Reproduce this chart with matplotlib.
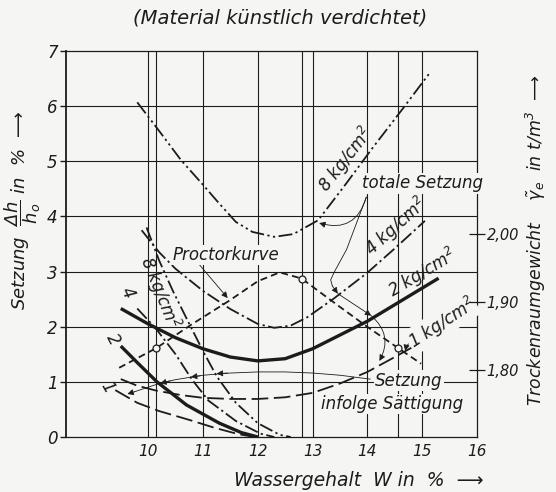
import matplotlib
matplotlib.use("Agg")
import matplotlib.pyplot as plt

plt.rcParams['font.family'] = ['DejaVu Sans']
plt.rcParams['font.style'] = 'italic'
plt.rcParams['mathtext.fontset'] = 'dejavusans'
plt.rcParams['mathtext.default'] = 'it'
plt.rcParams['lines.scale_dashes'] = False

INK = '#1c1c1c'
PAPER = '#f5f5f3'

# totale Setzung (x: Wassergehalt W in %, y: Setzung in %)
w_tot_8 = [9.8, 10.2, 10.6, 10.95, 11.3, 11.6, 11.9, 12.3, 12.65, 13.1, 13.6, 14.1, 14.65, 15.15]
s_tot_8 = [6.07, 5.55, 5.02, 4.63, 4.23, 3.9, 3.72, 3.63, 3.68, 3.93, 4.58, 5.25, 5.96, 6.62]
w_tot_4 = [9.88, 10.2, 10.5, 11.0, 11.5, 12.0, 12.3, 12.6, 12.9, 13.4, 14.0, 14.5, 15.05]
s_tot_4 = [3.75, 3.35, 3.05, 2.65, 2.32, 2.05, 1.98, 2.02, 2.17, 2.52, 2.98, 3.42, 3.92]
w_tot_2 = [9.5, 10.0, 10.5, 11.0, 11.5, 12.0, 12.5, 13.0, 13.5, 14.0, 14.5, 15.0, 15.3]
s_tot_2 = [2.33, 2.05, 1.8, 1.6, 1.45, 1.38, 1.42, 1.6, 1.85, 2.1, 2.4, 2.7, 2.88]
w_tot_1 = [9.5, 9.8, 10.15, 10.6, 11.0, 11.5, 12.0, 12.5, 13.0, 13.5, 14.0, 14.5, 14.95]
s_tot_1 = [1.05, 0.93, 0.84, 0.76, 0.71, 0.69, 0.69, 0.72, 0.8, 0.97, 1.18, 1.45, 1.7]

# Setzung infolge Saettigung
w_sat_8 = [9.97, 10.2, 10.45, 10.75, 11.0, 11.25, 11.6, 12.0, 12.4, 12.6]
s_sat_8 = [3.8, 3.2, 2.65, 2.05, 1.56, 1.1, 0.62, 0.25, 0.04, 0.0]
w_sat_4 = [9.8, 10.13, 10.5, 10.8, 11.1, 11.6, 12.05, 12.3]
s_sat_4 = [2.33, 1.98, 1.5, 1.04, 0.66, 0.29, 0.06, 0.0]
w_sat_2 = [9.5, 9.8, 10.16, 10.7, 11.3, 11.7, 12.0]
s_sat_2 = [1.65, 1.35, 1.0, 0.58, 0.25, 0.08, 0.0]
w_sat_1 = [9.4, 9.8, 10.2, 10.75, 11.2, 11.65, 11.95]
s_sat_1 = [0.85, 0.62, 0.47, 0.31, 0.17, 0.05, 0.0]

# Proctorkurve (Trockenraumgewicht in t/m3)
w_proctor = [9.47, 10.15, 10.8, 11.47, 12.0, 12.4, 12.8, 13.1, 13.47, 14.0, 14.56, 14.98]
d_proctor = [1.803, 1.832, 1.867, 1.901, 1.930, 1.943, 1.934, 1.916, 1.894, 1.863, 1.832, 1.809]
w_proctor_pts = [10.15, 12.8, 14.56]
d_proctor_pts = [1.832, 1.934, 1.832]

grid_x = [10, 10.15, 11, 12, 12.8, 13, 14, 14.56, 15]
x_ticks = [10, 11, 12, 13, 14, 15, 16]
y_ticks = [0, 1, 2, 3, 4, 5, 6, 7]
d_ticks = [1.80, 1.90, 2.00]
d_labels = ['1,80', '1,90', '2,00']

fig = plt.figure(figsize=(5.56, 4.92), dpi=100, facecolor=PAPER)
ax = fig.add_axes([0.1187, 0.1118, 0.7392, 0.7845])
ax.set_facecolor(PAPER)
ax.set_xlim(8.5, 16)
ax.set_ylim(0, 7)

for y in y_ticks[1:-1]:
    ax.axhline(y, color=INK, lw=0.8, zorder=1)
for x in grid_x:
    ax.axvline(x, color=INK, lw=0.8, zorder=1)
for sp in ax.spines.values():
    sp.set_color(INK)
    sp.set_linewidth(0.9)
ax.spines['left'].set_linewidth(1.3)

ax.set_xticks(x_ticks)
ax.set_xticklabels([str(v) for v in x_ticks])
ax.set_yticks(y_ticks)
ax.set_yticklabels([str(v) for v in y_ticks])
ax.tick_params(axis='x', length=0, pad=5, labelsize=11, colors=INK)
ax.tick_params(axis='y', direction='out', length=4, width=1, pad=2, labelsize=12, colors=INK)

dash_long = (12, 4)
dash_short = (5, 3)
dash_dot = (10, 2.5, 1.6, 2.5)
dash_dotdot = (10, 2.5, 1.6, 2.5, 1.6, 2.5)

ax.plot(w_tot_8, s_tot_8, color=INK, lw=1.3, dashes=dash_dotdot, zorder=3)
ax.plot(w_tot_4, s_tot_4, color=INK, lw=1.3, dashes=dash_dot, zorder=3)
ax.plot(w_tot_2, s_tot_2, color=INK, lw=2.4, zorder=3, solid_capstyle='butt')
ax.plot(w_tot_1, s_tot_1, color=INK, lw=1.3, dashes=dash_long, zorder=3)

ax.plot(w_sat_8, s_sat_8, color=INK, lw=1.3, dashes=dash_dotdot, zorder=3)
ax.plot(w_sat_4, s_sat_4, color=INK, lw=1.3, dashes=dash_dot, zorder=3)
ax.plot(w_sat_2, s_sat_2, color=INK, lw=2.4, zorder=3, solid_capstyle='butt')
ax.plot(w_sat_1, s_sat_1, color=INK, lw=1.3, dashes=dash_long, zorder=3)

# right axis: Trockenraumgewicht
ax2 = ax.twinx()
ax2.set_ylim(2.00 - 3.69 / 12.36, 2.00 + 3.31 / 12.36)
for sp in ax2.spines.values():
    sp.set_visible(False)
ax2.set_yticks(d_ticks)
ax2.set_yticklabels(d_labels)
ax2.tick_params(axis='y', direction='inout', length=11, width=0.9, pad=1.5, labelsize=10.5, colors=INK)
ax2.plot(w_proctor, d_proctor, color=INK, lw=1.3, dashes=dash_short, zorder=3)
ax2.plot(w_proctor_pts, d_proctor_pts, 'o', ms=5, mfc=PAPER, mec=INK, mew=0.9, zorder=4)

box = dict(boxstyle='square,pad=0.08', fc=PAPER, ec='none')
fs = 12

# labels on the curves
ax.text(13.6, 5.02, '8 kg/cm$^2$', rotation=52, rotation_mode='anchor', ha='center', va='center', fontsize=fs, color=INK, zorder=5)
ax.text(14.52, 3.82, '4 kg/cm$^2$', rotation=42, rotation_mode='anchor', ha='center', va='center', fontsize=fs, color=INK, zorder=5)
ax.text(15.0, 2.98, '2 kg/cm$^2$', rotation=31, rotation_mode='anchor', ha='center', va='center', fontsize=fs, color=INK, zorder=5)
ax.text(15.36, 2.07, '1 kg/cm$^2$', rotation=33, rotation_mode='anchor', ha='center', va='center', fontsize=fs, color=INK, bbox=box, zorder=5)
ax.text(15.0, 4.6, 'totale Setzung', ha='center', va='center', fontsize=fs, color=INK, bbox=box, zorder=5, clip_on=False)
ax.text(11.42, 3.3, 'Proctorkurve', ha='center', va='center', fontsize=fs, color=INK, bbox=box, zorder=5)
ax.text(14.76, 1.02, 'Setzung', ha='center', va='center', fontsize=fs, color=INK, bbox=box, zorder=5)
ax.text(14.45, 0.6, 'infolge Sättigung', ha='center', va='center', fontsize=fs, color=INK, bbox=box, zorder=5)

ax.text(10.2, 2.62, '8 kg/cm$^2$', rotation=-68, rotation_mode='anchor', ha='center', va='center', fontsize=fs, color=INK, zorder=5)
ax.text(9.62, 2.62, '4', rotation=-65, rotation_mode='anchor', ha='center', va='center', fontsize=fs, color=INK, zorder=5)
ax.text(9.35, 1.78, '2', rotation=-62, rotation_mode='anchor', ha='center', va='center', fontsize=fs, color=INK, zorder=5)
ax.text(9.25, 0.9, '1', rotation=-60, rotation_mode='anchor', ha='center', va='center', fontsize=fs, color=INK, zorder=5)

# leader lines
thin = dict(arrowstyle='-|>', lw=0.6, color=INK, mutation_scale=9, shrinkA=0, shrinkB=0)
ax.annotate('', xy=(11.45, 2.52), xytext=(10.93, 3.13), arrowprops=thin, zorder=4)

ax.annotate('', xy=(13.12, 3.88), xytext=(13.98, 4.35),
            arrowprops=dict(thin, connectionstyle='arc3,rad=-0.5'), zorder=4)
lead_w = [13.98, 13.62, 13.4, 13.33, 13.36]
lead_s = [4.35, 3.4, 3.0, 2.85, 2.74]
ax.plot(lead_w, lead_s, color=INK, lw=0.6, zorder=4)
ax.annotate('', xy=(13.46, 2.6), xytext=(13.36, 2.74), arrowprops=thin, zorder=4)
ax.annotate('', xy=(14.07, 2.2), xytext=(13.46, 2.6), arrowprops=thin, zorder=4)
ax.annotate('', xy=(14.22, 1.38), xytext=(14.07, 2.2),
            arrowprops=dict(thin, connectionstyle='arc3,rad=-0.4'), zorder=4)

sat_w = [14.05, 13.5, 13.0, 12.5, 12.0, 11.5, 11.0, 10.5, 10.2, 9.9, 9.75]
sat_s = [1.05, 1.12, 1.16, 1.18, 1.18, 1.16, 1.12, 1.04, 0.97, 0.87, 0.82]
ax.plot(sat_w, sat_s, color=INK, lw=0.6, zorder=4)
for (x0, y0, x1, y1) in [(11.45, 1.16, 11.25, 1.15), (10.95, 1.11, 10.78, 1.09),
                         (10.4, 1.02, 10.22, 0.97), (9.75, 0.82, 9.62, 0.78)]:
    ax.annotate('', xy=(x1, y1), xytext=(x0, y0), arrowprops=thin, zorder=4)

ax.annotate('', xy=(14.69, 1.56), xytext=(14.9, 1.78),
            arrowprops=dict(thin, connectionstyle='arc3,rad=0.3'), zorder=4)

# axis titles
fig.text(0.5036, 0.963, '(Material künstlich verdichtet)', ha='center', va='center', fontsize=14, color=INK)
fig.text(0.6457, 0.0224, 'Wassergehalt  W in  %  ⟶', ha='center', va='center', fontsize=13.5, color=INK)
fig.text(0.041, 0.573, r'Setzung  $\dfrac{\Delta h}{h_o}$ in  %  ⟶', rotation=90, ha='center', va='center', fontsize=13, color=INK)
fig.text(0.964, 0.512, r'Trockenraumgewicht    $\tilde{\gamma}_e$  in t/m$^3$  ⟶', rotation=90, ha='center', va='center', fontsize=12.5, color=INK)

fig.savefig('out.png', dpi=100, facecolor=PAPER)
